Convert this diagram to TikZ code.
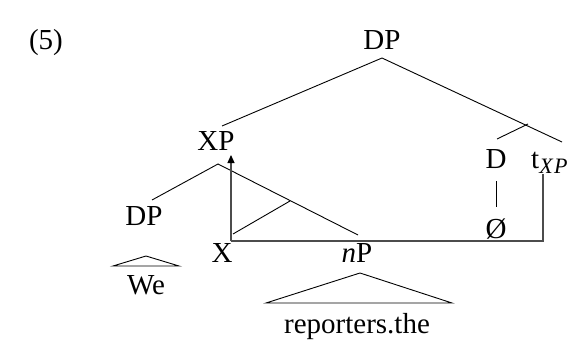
\documentclass[tikz,border=0pt]{standalone}
\usepackage{fontspec}
\setmainfont{Liberation Serif}
\usetikzlibrary{arrows.meta}
\begin{document}
\begin{tikzpicture}[x=1pt,y=-1pt,
  lab/.style={inner sep=0pt,anchor=base,font=\fontsize{29}{34}\selectfont},
  br/.style={line width=0.9pt},
  mv/.style={line width=1.1pt,draw=black!70}]
\useasboundingbox (0,0) rectangle (583,342);
\node[lab] (ex) at (46,50) {(5)};
\node[lab] (dp) at (382,50) {DP};
\node[lab] (xp) at (216,150) {XP};
\node[lab] (d) at (496,168) {D};
\node[lab,anchor=base west] (t) at (531,168) {t\raisebox{-5pt}{\fontsize{22}{26}\selectfont\itshape X\kern1.5pt P}};
\node[lab] (dpl) at (144,225) {DP};
\node[lab] (x) at (222,262) {X};
\node[lab] (np) at (357,262) {\textit{n}P};
\node[lab] (null) at (496,238) {Ø};
\node[lab] (we) at (146,294) {We};
\node[lab] (rep) at (357,333) {reporters.the};
% top branches
\coordinate (dpb) at (382,58);
\coordinate (xptop) at (222,126);
\coordinate (ttop) at (562,142);
\coordinate (dbr) at (528,124);
\coordinate (dtop) at (497,139);
\draw[br] (xptop) -- (dpb) -- (ttop);
\draw[br] (dbr) -- (dtop);
% XP subtree
\coordinate (xpb) at (218,164);
\coordinate (dpltop) at (152,200);
\coordinate (nptop) at (358,235);
\coordinate (xbr) at (290,201);
\coordinate (xtop) at (233,234);
\draw[br] (dpltop) -- (xpb) -- (nptop);
\draw[br] (xbr) -- (xtop);
% D - null
\draw[br] (496,181) -- (496,207);
% triangles
\draw[br] (113,266) -- (146,256) -- (179,266) -- cycle;
\draw[br] (266,303) -- (360,273) -- (452,303) -- cycle;
% movement
\coordinate (mvstart) at (231,241);
\coordinate (corner) at (543,241);
\coordinate (tbot) at (543,174);
\draw[mv] (tbot) -- (corner) -- (mvstart);
\draw[mv,-{Triangle[length=8pt,width=7pt,color=black]}] (mvstart) -- (231,155);
\end{tikzpicture}
\end{document}
